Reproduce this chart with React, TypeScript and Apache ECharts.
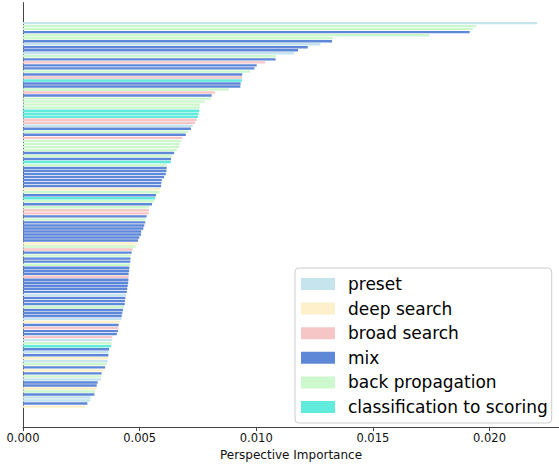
import React, { useEffect, useRef } from "react";
import * as echarts from "echarts";

const groupNames = [
  "preset",
  "deep search",
  "broad search",
  "mix",
  "back propagation",
  "classification to scoring",
];
const groupColors = ["#c5e4ed", "#fdf0cb", "#f6c6c6", "#5f87d8", "#cdf7cd", "#60ebdc"];

const P = "preset";
const D = "deep search";
const B = "broad search";
const M = "mix";
const G = "back propagation";
const C = "classification to scoring";

// perspective importance, sorted descending (top bar first)
const importances = [
  0.02204, 0.01943, 0.01928, 0.01915, 0.01741, 0.01328, 0.01325, 0.01275, 0.01221, 0.01179,
  0.01161, 0.01084, 0.01083, 0.01038, 0.01002, 0.00992, 0.00973, 0.00940, 0.00939, 0.00939,
  0.00933, 0.00932, 0.00883, 0.00823, 0.00809, 0.00806, 0.0078, 0.00759, 0.00758, 0.00756,
  0.00753, 0.0075, 0.00745, 0.00738, 0.00728, 0.0072, 0.00709, 0.00698, 0.00683, 0.00678,
  0.00672, 0.0067, 0.00659, 0.00648, 0.00639, 0.00635, 0.00634, 0.00617, 0.00616, 0.00615,
  0.00612, 0.00605, 0.00595, 0.00593, 0.00592, 0.0059, 0.00585, 0.0057, 0.00566, 0.00562,
  0.00553, 0.0054, 0.0054, 0.00539, 0.0053, 0.00525, 0.00524, 0.0052, 0.00516, 0.00507,
  0.00506, 0.00499, 0.00493, 0.00488, 0.00483, 0.0047, 0.00466, 0.00462, 0.00461, 0.0046,
  0.00459, 0.00456, 0.00455, 0.00453, 0.00453, 0.00452, 0.00451, 0.00449, 0.00447, 0.00445,
  0.00443, 0.00439, 0.00437, 0.00436, 0.00433, 0.00429, 0.00426, 0.00423, 0.00422, 0.00416,
  0.0041, 0.00409, 0.00407, 0.00402, 0.00383, 0.00382, 0.00379, 0.00377, 0.00369, 0.00367,
  0.00366, 0.00364, 0.00363, 0.00359, 0.00352, 0.0035, 0.00337, 0.00336, 0.00335, 0.0032,
  0.00316, 0.00315, 0.00309, 0.00306, 0.0029, 0.00289, 0.00276, 0.00269,
];

const groups = [
  P, G, G, M, G, G, M, P, M, M,
  P, G, M, B, M, M, G, M, B, C,
  M, M, G, B, M, G, G, G, G, C,
  C, C, B, B, P, M, G, M, B, G,
  G, G, G, M, G, M, C, G, M, M,
  M, M, M, M, M, D, G, M, C, G,
  M, G, B, B, M, G, M, M, M, M,
  M, M, M, D, G, B, M, G, M, M,
  G, M, M, M, B, M, M, M, M, M,
  P, M, M, M, G, M, M, M, P, D,
  M, B, M, M, B, P, G, C, M, P,
  M, D, P, G, M, D, M, G, P, M,
  M, D, G, M, P, P, M, D,
];

const xTicks = [0, 0.005, 0.01, 0.015, 0.02];

export default function App() {
  const ref = useRef<HTMLDivElement>(null);

  useEffect(() => {
    if (!ref.current) return;
    const chart = echarts.init(ref.current, undefined, { renderer: "svg" });
    const n = importances.length;
    const margin = 0.05 * (n - 1 + 0.8);
    const series = groupNames.map((name, gi) => ({
      type: "custom",
      name,
      coordinateSystem: "cartesian2d",
      encode: { x: 1, y: 0 },
      itemStyle: { color: groupColors[gi] },
      data: importances
        .map((v, i) => [i, v])
        .filter((_, i) => groups[i] === name),
      renderItem: (params: any, api: any) => {
        const i = api.value(0);
        const v = api.value(1);
        const p0 = api.coord([0, i]);
        const p1 = api.coord([v, i]);
        const h = api.size([0, 0.8])[1];
        return {
          type: "rect",
          shape: { x: p0[0], y: p0[1] - h / 2, width: p1[0] - p0[0], height: h },
          style: { fill: groupColors[gi] },
        };
      },
    }));

    chart.setOption({
      animation: false,
      backgroundColor: "#ffffff",
      textStyle: { fontFamily: "DejaVu Sans" },
      grid: { left: 23, right: 0, top: 2.6, bottom: 33.5, containLabel: false },
      xAxis: {
        type: "value",
        min: 0,
        max: 0.02298,
        name: "Perspective Importance",
        nameLocation: "middle",
        nameGap: 19,
        nameTextStyle: { fontSize: 12, color: "#111", fontFamily: "DejaVu Sans" },
        axisLine: { show: true, onZero: false, lineStyle: { color: "#444", width: 1 } },
        axisTick: { show: true, length: 4, lineStyle: { color: "#444" }, customValues: xTicks },
        axisLabel: {
          customValues: xTicks,
          formatter: (v: number) => v.toFixed(3),
          fontSize: 11.5,
          color: "#111",
          margin: 5,
          fontFamily: "DejaVu Sans",
        },
        splitLine: { show: false },
      },
      yAxis: {
        type: "value",
        inverse: true,
        min: -0.4 - margin,
        max: n - 1 + 0.4 + margin,
        axisLine: { show: true, onZero: false, lineStyle: { color: "#444", width: 1 } },
        axisTick: { show: false },
        axisLabel: { show: false },
        splitLine: { show: false },
      },
      legend: {
        orient: "vertical",
        left: 295,
        top: 268,
        icon: "rect",
        itemWidth: 34,
        itemHeight: 12,
        itemGap: 4.6,
        padding: [6, 4, 6, 6],
        backgroundColor: "rgba(255,255,255,0.85)",
        borderColor: "#cccccc",
        borderWidth: 1,
        borderRadius: 4,
        textStyle: {
          fontSize: 17,
          fontFamily: "DejaVu Sans",
          color: "#000",
          lineHeight: 20,
          padding: [0, 0, 0, 8],
        },
        data: groupNames,
      },
      series,
    });
    return () => chart.dispose();
  }, []);

  return (
    <div
      ref={ref}
      style={{ position: "absolute", left: 0, top: 0, width: 559, height: 466 }}
    />
  );
}
